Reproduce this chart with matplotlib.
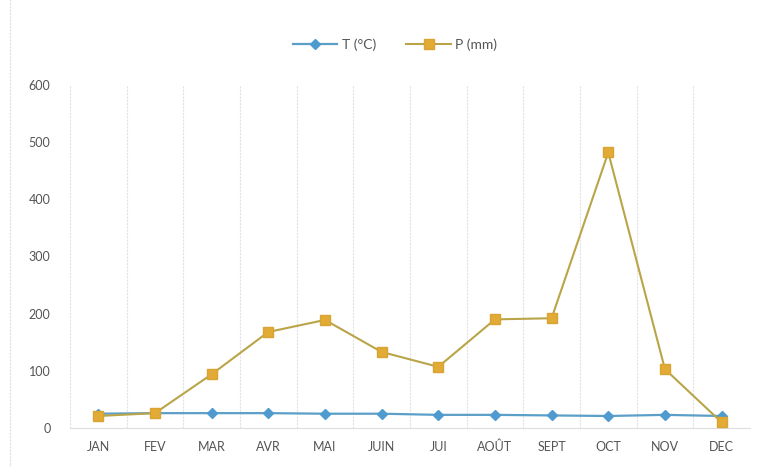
import matplotlib
matplotlib.use("Agg")
import matplotlib.pyplot as plt
import numpy as np

plt.rcParams['font.family'] = ['Lato', 'DejaVu Sans']

months = ['JAN', 'FEV', 'MAR', 'AVR', 'MAI', 'JUIN', 'JUI', 'AOÛT', 'SEPT', 'OCT', 'NOV', 'DEC']
temp = [25, 26, 26, 26, 25, 25, 23, 23, 22, 21, 23, 21]
precip = [21, 26, 94, 168, 189, 133, 107, 190, 192, 482, 103, 10]
yticks = [0, 100, 200, 300, 400, 500, 600]

fig = plt.figure(figsize=(7.66, 4.67), dpi=100)
ax = fig.add_axes([0.0914, 0.0835, 0.8876, 0.7345])

x = np.arange(len(months))
ax.plot(x, temp, color='#5b9fc8', lw=1.6, marker='D', ms=5,
        mfc='#4f9bd0', mec='#4f9bd0', label='T (°C)', zorder=3)
ax.plot(x, precip, color='#b9a548', lw=1.5, marker='s', ms=7,
        mfc='#e2ab35', mec='#d9a434', label='P (mm)', zorder=4)

ax.set_xlim(-0.5, len(months) - 0.5)
ax.set_ylim(0, 600)
ax.set_yticks(yticks)
ax.set_xticks(x)
ax.set_xticklabels(months)
ax.tick_params(length=0, labelsize=9, colors='#555555')
ax.tick_params(axis='x', pad=9)
ax.tick_params(axis='y', pad=14)

# category boundary gridlines
for b in np.arange(-0.5, len(months), 1.0):
    ax.axvline(b, color='#e2e2e2', lw=0.8, ls=(0, (2, 1)), zorder=1)

for s in ['top', 'right', 'left']:
    ax.spines[s].set_visible(False)
ax.spines['bottom'].set_color('#dddddd')

ax.legend(loc='center', bbox_to_anchor=(0.478, 1.117), ncol=2, frameon=False,
          fontsize=10, labelcolor='#555555', handlelength=3.2, columnspacing=2.2,
          handletextpad=0.3)

# chart frame
fig.patches.append(plt.Rectangle((0.013, -0.02), 1.2, 1.1, transform=fig.transFigure,
                                 fill=False, ec='#dddddd', lw=0.8, ls=(0, (2, 1))))

fig.savefig('out.png', dpi=100)
